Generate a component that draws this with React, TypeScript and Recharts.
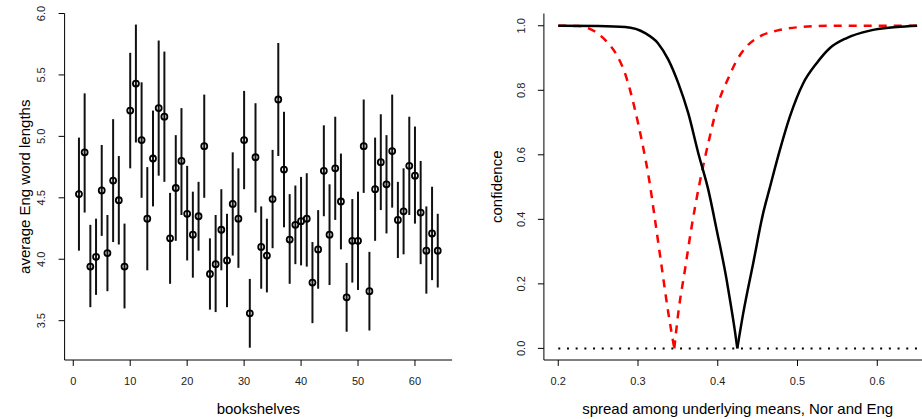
import { ComposedChart, Scatter, Line, XAxis, YAxis, ErrorBar } from 'recharts';

// left panel: mean word length per bookshelf with interval
const means = [
  4.53, 4.87, 3.94, 4.02, 4.56, 4.05, 4.64, 4.48, 3.94, 5.21, 5.43, 4.97, 4.33, 4.82, 5.23, 5.16,
  4.17, 4.58, 4.80, 4.37, 4.20, 4.35, 4.92, 3.88, 3.96, 4.24, 3.99, 4.45, 4.33, 4.97, 3.56, 4.83,
  4.10, 4.03, 4.49, 5.30, 4.73, 4.16, 4.28, 4.31, 4.33, 3.81, 4.08, 4.72, 4.20, 4.74, 4.47, 3.69,
  4.15, 4.15, 4.92, 3.74, 4.57, 4.79, 4.61, 4.88, 4.32, 4.39, 4.76, 4.68, 4.38, 4.07, 4.21, 4.07,
];
const lows = [
  4.07, 4.38, 3.61, 3.71, 4.19, 3.74, 4.14, 4.12, 3.60, 4.74, 4.95, 4.50, 3.91, 4.43, 4.68, 4.63,
  3.80, 4.15, 4.36, 3.99, 3.85, 4.07, 4.50, 3.59, 3.57, 3.91, 3.61, 4.03, 3.93, 4.57, 3.28, 4.38,
  3.76, 3.73, 4.09, 4.84, 4.26, 3.80, 3.96, 3.95, 3.94, 3.48, 3.76, 4.35, 3.79, 4.32, 4.08, 3.41,
  3.81, 3.75, 4.54, 3.42, 4.15, 4.40, 4.21, 4.42, 4.01, 4.04, 4.36, 4.29, 3.96, 3.72, 3.83, 3.77,
];
const highs = [
  4.99, 5.35, 4.28, 4.33, 4.93, 4.36, 5.14, 4.84, 4.29, 5.68, 5.91, 5.44, 4.75, 5.21, 5.78, 5.69,
  4.54, 5.01, 5.23, 4.76, 4.55, 4.63, 5.34, 4.17, 4.36, 4.57, 4.37, 4.87, 4.74, 5.37, 3.84, 5.27,
  4.43, 4.33, 4.89, 5.76, 5.20, 4.53, 4.60, 4.67, 4.70, 4.14, 4.40, 5.09, 4.61, 5.16, 4.86, 3.97,
  4.49, 4.55, 5.30, 4.06, 4.99, 5.18, 5.01, 5.34, 4.63, 4.74, 5.16, 5.08, 4.80, 4.43, 4.59, 4.37,
];
const shelfTicks = [0, 10, 20, 30, 40, 50, 60];
const lengthTicks = [3.5, 4.0, 4.5, 5.0, 5.5, 6.0];

// right panel: confidence curves, split at the cusp
const blackLeft = [
  [0.2, 1.0], [0.25, 0.999], [0.284, 0.996], [0.309, 0.977], [0.325, 0.946], [0.338, 0.895],
  [0.3505, 0.822], [0.363, 0.729], [0.3756, 0.605], [0.3881, 0.492], [0.3986, 0.368],
  [0.4111, 0.213], [0.4153, 0.151], [0.4216, 0.052], [0.4245, 0],
];
const blackRight = [
  [0.4245, 0], [0.432, 0.11], [0.4445, 0.265], [0.457, 0.42], [0.4646, 0.492], [0.478, 0.616],
  [0.4905, 0.719], [0.5072, 0.822], [0.524, 0.884], [0.5407, 0.931], [0.5616, 0.962],
  [0.5908, 0.985], [0.6243, 0.996], [0.65, 1.0],
];
const redLeft = [
  [0.2, 1.0], [0.225, 0.999], [0.246, 0.982], [0.2607, 0.951], [0.2732, 0.91], [0.2836, 0.853],
  [0.2899, 0.802], [0.2962, 0.74], [0.3045, 0.647], [0.315, 0.507], [0.3213, 0.399],
  [0.3296, 0.254], [0.338, 0.11], [0.3455, 0],
];
const redRight = [
  [0.3455, 0], [0.3505, 0.11], [0.3589, 0.244], [0.3673, 0.378], [0.376, 0.497], [0.3881, 0.636],
  [0.4006, 0.76], [0.4142, 0.843], [0.4226, 0.887], [0.4362, 0.936], [0.4529, 0.967],
  [0.4739, 0.985], [0.4989, 0.995], [0.5407, 1.0], [0.65, 1.0],
];
const zeroLine = [[0.2, 0], [0.65, 0]];
const spreadTicks = [0.2, 0.3, 0.4, 0.5, 0.6];
const confTicks = [0, 0.2, 0.4, 0.6, 0.8, 1.0];

const shelfData = means.map((m, i) => ({
  shelf: i + 1,
  mean: m,
  err: [m - lows[i], highs[i] - m],
}));
const toPts = (arr: number[][]) => arr.map(([x, y]) => ({ x, y }));

const FONT = '"Liberation Sans", Arial, Helvetica, sans-serif';
const TICK = { fontSize: 11, fill: '#222', fontFamily: FONT };

const RotTick = (props: any) => {
  const { x, y, payload } = props;
  return (
    <text x={x} y={y} transform={`rotate(-90 ${x} ${y})`} textAnchor="middle" dy="0.35em"
      fontSize={11} fill="#222" fontFamily={FONT}>
      {Number(payload.value).toFixed(1)}
    </text>
  );
};

const yTitle = (text: string, x: number) => (props: any) => {
  const vb = props.viewBox || {};
  const cy = (vb.y || 0) + (vb.height || 0) / 2;
  return (
    <text x={x} y={cy} transform={`rotate(-90 ${x} ${cy})`} textAnchor="middle" dy="0.35em"
      fontSize={15} fill="#000" fontFamily={FONT}>{text}</text>
  );
};

const xTitle = (text: string, y: number) => (props: any) => {
  const vb = props.viewBox || {};
  const cx = (vb.x || 0) + (vb.width || 0) / 2;
  return (
    <text x={cx} y={y} textAnchor="middle" fontSize={15} fill="#000" fontFamily={FONT}>{text}</text>
  );
};

const axisLine = { stroke: '#000', strokeWidth: 1 };

export default function App() {
  return (
    <div style={{ position: 'absolute', left: 0, top: 0, width: 922, height: 419, overflow: 'hidden', background: '#fff', fontFamily: FONT }}>
      <div style={{ position: 'absolute', left: 0, top: 0 }}>
        <ComposedChart width={470} height={419} data={shelfData} margin={{ top: 13.5, right: 17.9, bottom: 0, left: 0 }}>
          <XAxis type="number" dataKey="shelf" domain={[-1.52, 66.52]} ticks={shelfTicks} allowDataOverflow
            height={59} tickSize={6} tickMargin={11} tick={TICK} axisLine={axisLine} tickLine={axisLine}
            label={{ content: xTitle('bookshelves', 414) }} />
          <YAxis type="number" domain={[3.18, 6.0]} ticks={lengthTicks} allowDataOverflow
            width={64.6} tickSize={6} tickMargin={17} tick={RotTick} axisLine={axisLine} tickLine={axisLine}
            label={{ content: yTitle('average Eng word lengths', 25) }} />
          <Scatter dataKey="mean" isAnimationActive={false}
            shape={(p: any) => <circle cx={p.cx} cy={p.cy} r={3} fill="none" stroke="#000" strokeWidth={1.8} />}>
            <ErrorBar dataKey="err" direction="y" width={0} stroke="#111" strokeWidth={2} isAnimationActive={false} />
          </Scatter>
        </ComposedChart>
      </div>
      <div style={{ position: 'absolute', left: 470, top: 0 }}>
        <ComposedChart width={480} height={419} margin={{ top: 13.5, right: 18.5, bottom: 0, left: 0 }}>
          <XAxis type="number" dataKey="x" domain={[0.182, 0.668]} ticks={spreadTicks} allowDataOverflow
            height={59} tickSize={6} tickMargin={11} tick={TICK} axisLine={axisLine} tickLine={axisLine}
            tickFormatter={(v: number) => v.toFixed(1)}
            label={{ content: xTitle('spread among underlying means, Nor and Eng', 414) }} />
          <YAxis type="number" dataKey="y" domain={[-0.036, 1.038]} ticks={confTicks} allowDataOverflow
            width={73.9} tickSize={6} tickMargin={17} tick={RotTick} axisLine={axisLine} tickLine={axisLine}
            label={{ content: yTitle('confidence', 26.7) }} />
          <Line data={toPts(zeroLine)} dataKey="y" stroke="#000" strokeWidth={2} strokeDasharray="2 6.7"
            dot={false} isAnimationActive={false} />
          <Line data={toPts(redLeft)} dataKey="y" type="monotone" stroke="#ff0000" strokeWidth={2.5}
            strokeDasharray="8 7" dot={false} isAnimationActive={false} />
          <Line data={toPts(redRight)} dataKey="y" type="monotone" stroke="#ff0000" strokeWidth={2.5}
            strokeDasharray="8 7" dot={false} isAnimationActive={false} />
          <Line data={toPts(blackLeft)} dataKey="y" type="monotone" stroke="#000" strokeWidth={2.5}
            dot={false} isAnimationActive={false} />
          <Line data={toPts(blackRight)} dataKey="y" type="monotone" stroke="#000" strokeWidth={2.5}
            dot={false} isAnimationActive={false} />
        </ComposedChart>
      </div>
    </div>
  );
}
